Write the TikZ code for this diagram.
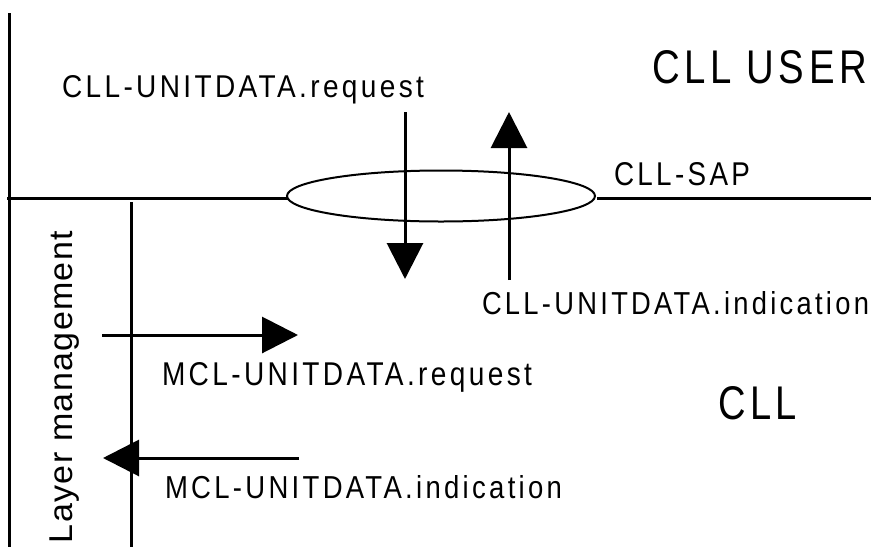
\documentclass[tikz,border=0pt]{standalone}
\usepackage{fontspec}
\usepackage{graphicx}
\setmainfont{Liberation Sans}[LetterSpace=12]
\newfontfamily\lmfont{Liberation Sans}[LetterSpace=4]
\usetikzlibrary{arrows.meta,shapes.geometric}
\newcommand{\fitt}[3]{\resizebox{#1pt}{#2pt}{#3}}
\tikzset{
  line/.style={line width=3pt},
  sig/.style={line width=3pt,-{Triangle[length=36pt,width=36pt]}},
  lbl/.style={inner sep=0pt,outer sep=0pt,anchor=base west},
}
\begin{document}
\begin{tikzpicture}[x=1pt,y=-1pt]
\useasboundingbox (0,0) rectangle (871,547);
% layer boundaries
\coordinate (lt) at (9,13);
\coordinate (lb) at (9,547);
\coordinate (hl) at (7,198);
\coordinate (hr) at (871,198);
\coordinate (it) at (131,202);
\coordinate (ib) at (131,547);
\draw[line] (lt) -- (lb);
\draw[line] (it) -- (ib);
\node[draw,ellipse,line width=2pt,minimum width=308pt,minimum height=51pt,inner sep=0pt,outer sep=0pt] (sap) at (441,196) {};
\coordinate (sw) at (288,198);
\coordinate (se) at (597,198);
\draw[line] (hl) -- (sw);
\draw[line] (se) -- (hr);
% CLL primitives
\coordinate (dreqs) at (405,112);
\coordinate (dreqe) at (405,279);
\coordinate (dinds) at (509,280);
\coordinate (dinde) at (509,112);
\draw[sig] (dreqs) -- (dreqe);
\draw[sig] (dinds) -- (dinde);
% MCL primitives
\coordinate (mreqs) at (102,335);
\coordinate (mreqe) at (298,335);
\coordinate (minds) at (299,458);
\coordinate (minde) at (103,458);
\draw[sig] (mreqs) -- (mreqe);
\draw[sig] (minds) -- (minde);
% labels
\node[lbl] (t1) at (62,97) {\fitt{362}{22}{CLL-UNITDATA.request}};
\node[lbl] (t2) at (652,83) {\fitt{215}{33}{CLL USER}};
\node[lbl] (t3) at (614,185) {\fitt{136}{23}{CLL-SAP}};
\node[lbl] (t4) at (482,314) {\fitt{387}{23}{CLL-UNITDATA.indication}};
\node[lbl] (t5) at (162,385) {\fitt{370}{23}{MCL-UNITDATA.request}};
\node[lbl] (t6) at (165,498) {\fitt{397}{23}{MCL-UNITDATA.indication}};
\node[lbl] (t7) at (718,419) {\fitt{79}{33}{CLL}};
\node[lbl,rotate=90] (t8) at (72.7,543) {\fitt{312}{22.7}{\lmfont Layer management}};
\end{tikzpicture}
\end{document}
